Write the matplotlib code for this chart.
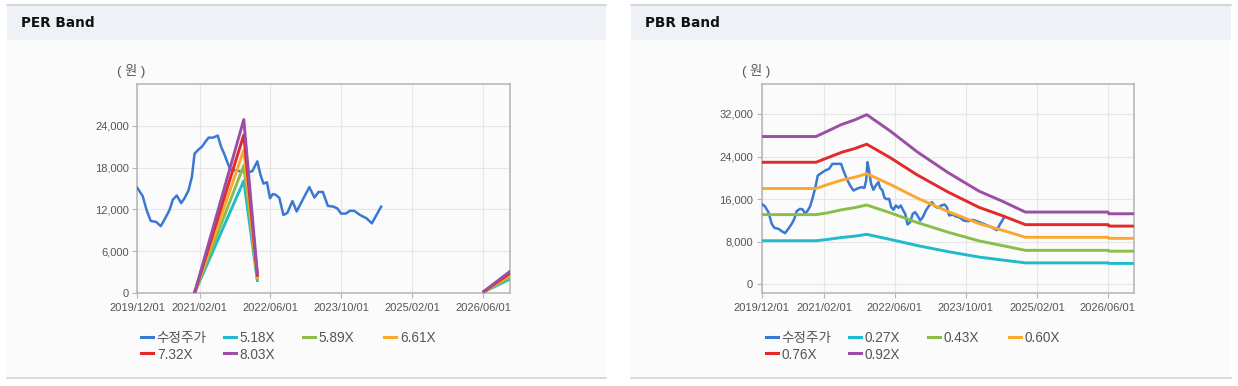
import matplotlib
matplotlib.use('Agg')
import matplotlib.pyplot as plt
from matplotlib.patches import Rectangle
from matplotlib.lines import Line2D
import numpy as np
import pandas as pd

plt.rcParams['font.family'] = ['Liberation Sans', 'Noto Sans CJK KR', 'DejaVu Sans']

# ---- data ----
per_price_dates = ['2019-12-01', '2020-01-07', '2020-02-03', '2020-03-02', '2020-04-08', '2020-05-10',
                   '2020-06-09', '2020-07-09', '2020-08-01', '2020-08-28', '2020-09-27', '2020-10-20',
                   '2020-11-17', '2020-12-10', '2020-12-28', '2021-01-25', '2021-02-17', '2021-03-12',
                   '2021-04-04', '2021-05-04', '2021-06-05', '2021-06-28', '2021-07-21', '2021-08-13',
                   '2021-08-31', '2021-10-31', '2021-12-30', '2022-01-29', '2022-03-04', '2022-03-25',
                   '2022-04-15', '2022-05-09', '2022-05-30', '2022-06-18', '2022-07-08', '2022-08-02',
                   '2022-08-30', '2022-09-26', '2022-10-31', '2022-11-29', '2023-01-02', '2023-02-24',
                   '2023-03-31', '2023-04-28', '2023-05-28', '2023-07-01', '2023-08-08', '2023-09-04',
                   '2023-09-30', '2023-11-01', '2023-11-30', '2023-12-28', '2024-02-07', '2024-03-24',
                   '2024-04-28', '2024-07-01']
per_price = [15100, 13900, 11900, 10350, 10200, 9600,
             10700, 11900, 13400, 14000, 12900, 13600,
             14750, 16700, 20000, 20600, 21000, 21700,
             22300, 22300, 22600, 21000, 19900, 18600,
             17700, 17500, 17300, 17500, 18900, 17000,
             15700, 15900, 13600, 14200, 14100, 13650,
             11200, 11500, 13200, 11700, 13100, 15200,
             13700, 14500, 14500, 12500, 12400, 12150,
             11400, 11400, 11800, 11800, 11200, 10700,
             10000, 12400]

per_band_dates = ['2020-12-28', '2021-12-01', '2022-03-04', '2024-01-01', '2026-06-07', '2026-11-29']
per_labels = ['5.18X', '5.89X', '6.61X', '7.32X', '8.03X']
per_518 = [0, 16100, 1800, np.nan, 160, 1970]
per_589 = [0, 18300, 2050, np.nan, 180, 2240]
per_661 = [0, 20500, 2300, np.nan, 200, 2510]
per_732 = [0, 22700, 2550, np.nan, 230, 2780]
per_803 = [0, 24900, 2800, np.nan, 250, 3050]

pbr_price_dates = ['2019-12-01', '2019-12-24', '2020-01-16', '2020-02-08', '2020-02-26', '2020-03-25',
                   '2020-04-16', '2020-05-09', '2020-06-01', '2020-06-24', '2020-07-12', '2020-07-28',
                   '2020-08-20', '2020-09-08', '2020-09-24', '2020-10-12', '2020-10-28', '2020-11-13',
                   '2020-12-01', '2020-12-20', '2021-01-12', '2021-02-08', '2021-03-08', '2021-03-30',
                   '2021-04-29', '2021-05-29', '2021-06-14', '2021-07-07', '2021-07-30', '2021-08-22',
                   '2021-09-14', '2021-10-13', '2021-11-05', '2021-11-17', '2021-11-26', '2021-12-07',
                   '2021-12-21', '2022-01-06', '2022-01-22', '2022-02-09', '2022-02-21', '2022-03-09',
                   '2022-03-23', '2022-04-08', '2022-04-24', '2022-05-08', '2022-05-24', '2022-06-09',
                   '2022-06-27', '2022-07-13', '2022-07-27', '2022-08-12', '2022-08-28', '2022-09-15',
                   '2022-10-03', '2022-10-19', '2022-11-04', '2022-11-23', '2022-12-11', '2023-01-01',
                   '2023-01-19', '2023-02-11', '2023-03-06', '2023-03-24', '2023-04-16', '2023-05-09',
                   '2023-05-25', '2023-06-10', '2023-07-03', '2023-07-26', '2023-08-18', '2023-09-16',
                   '2023-10-21', '2023-11-17', '2023-12-17', '2024-01-20', '2024-02-23', '2024-03-29',
                   '2024-05-02', '2024-05-28', '2024-06-24']
pbr_price = [15120, 14620, 13560, 11370, 10620, 10440,
             10000, 9620, 10440, 11370, 12310, 13750,
             14190, 14060, 13250, 13870, 14620, 16060,
             17940, 20440, 20870, 21370, 21690, 22620,
             22620, 22620, 21370, 19810, 18560, 17620,
             17940, 18250, 18120, 19500, 22940, 21370,
             18870, 17750, 18560, 19190, 18120, 17620,
             16250, 16000, 16060, 14500, 14000, 14810,
             14370, 14810, 14000, 13250, 11250, 11690,
             13250, 13560, 12940, 12000, 12620, 13870,
             14620, 15440, 14620, 14370, 14810, 15000,
             14500, 12940, 13120, 12750, 12620, 12000,
             11870, 12120, 11870, 11500, 11100, 10700,
             10200, 11500, 12700]

pbr_band_dates = ['2019-12-01', '2020-12-08', '2021-03-01', '2021-06-01', '2021-09-01', '2021-11-21',
                  '2022-05-01', '2022-11-01', '2023-06-01', '2024-01-01', '2024-06-01', '2024-11-14',
                  '2026-06-05', '2026-06-10', '2026-12-01']
pbr_labels = ['0.27X', '0.43X', '0.60X', '0.76X', '0.92X']
pbr_027 = [8200, 8200, 8460, 8810, 9060, 9400, 8450, 7310, 6160, 5140, 4610, 4050, 4050, 3950, 3950]
pbr_043 = [13100, 13100, 13450, 14010, 14420, 14900, 13450, 11630, 9810, 8170, 7340, 6400, 6400, 6250, 6250]
pbr_060 = [18000, 18000, 18780, 19560, 20130, 20770, 18770, 16230, 13690, 11410, 10240, 8850, 8850, 8650, 8650]
pbr_076 = [22920, 22920, 23800, 24780, 25510, 26310, 23780, 20570, 17350, 14460, 12980, 11220, 11220, 10950, 10950]
pbr_092 = [27750, 27750, 28810, 30000, 30880, 31850, 28790, 24900, 21000, 17500, 15710, 13580, 13580, 13260, 13260]

tick_dates = ['2019-12-01', '2021-02-01', '2022-06-01', '2023-10-01', '2025-02-01', '2026-06-01']
tick_labels = ['2019/12/01', '2021/02/01', '2022/06/01', '2023/10/01', '2025/02/01', '2026/06/01']

price_label = '수정주가'
price_color = '#3a78d4'
band_colors = ['#1fbbcc', '#8bbd4a', '#fba82e', '#e3292a', '#9b4ea3']

W, H = 1238, 386
fig = plt.figure(figsize=(W / 100, H / 100), dpi=100)


def fx(px):
    return px / W


def fy(py):
    return 1 - py / H


def panel(x0, x1, title):
    fig.add_artist(Rectangle((fx(x0), fy(378)), fx(x1 - x0), 374 / H, transform=fig.transFigure,
                             fc='#fbfbfb', ec='none', zorder=-5))
    fig.add_artist(Rectangle((fx(x0), fy(40)), fx(x1 - x0), 36 / H, transform=fig.transFigure,
                             fc='#eef1f6', ec='none', zorder=-4))
    fig.add_artist(Line2D([fx(x0), fx(x1)], [fy(4.5), fy(4.5)], color='#d3d3d3', lw=1.2, zorder=-3))
    fig.add_artist(Line2D([fx(x0), fx(x1)], [fy(378), fy(378)], color='#d3d3d3', lw=1.2, zorder=-3))
    fig.text(fx(x0 + 14), fy(23), title, fontsize=9.8, fontweight='bold', family='DejaVu Sans',
             color='#111111', va='center', ha='left')


def chart(left, price_dates, price, band_dates, bands, labels, ylim, yticks):
    ax = fig.add_axes([fx(left), fy(293), fx(372.5), 209 / H])
    ax.set_facecolor('none')
    ax.plot(pd.to_datetime(price_dates), price, color=price_color, lw=1.8, zorder=3)
    bd = pd.to_datetime(band_dates)
    for vals, c in zip(bands, band_colors):
        ax.plot(bd, vals, color=c, lw=2.1, zorder=4)
    ax.set_xlim(pd.Timestamp('2019-12-01'), pd.Timestamp('2026-12-01'))
    ax.set_ylim(*ylim)
    ax.set_xticks(pd.to_datetime(tick_dates))
    ax.set_xticklabels(tick_labels)
    ax.set_yticks(yticks)
    ax.set_yticklabels(['{:,}'.format(v) for v in yticks])
    ax.grid(color='#e6e6e6', lw=0.8)
    ax.set_axisbelow(True)
    for s in ax.spines.values():
        s.set_color('#b4b4b4')
        s.set_linewidth(1.1)
    ax.tick_params(axis='both', length=3.6, width=0.8, color='#b4b4b4', labelsize=8, labelcolor='#555555')
    ax.tick_params(axis='x', pad=3.5)
    ax.tick_params(axis='y', pad=2.5)

    fig.text(fx(left - 6), fy(71), '( 원 )', fontsize=9.5, color='#555555', ha='center', va='center')

    # legend, laid out like the reference (4 + 2)
    names = [price_label] + labels
    colors = [price_color] + band_colors
    cols = [4, 87, 166, 247]
    rows = [336.7, 353.3]
    for i, (n, c) in enumerate(zip(names, colors)):
        xs = left + cols[i % 4]
        ys = rows[i // 4]
        fig.add_artist(Line2D([fx(xs), fx(xs + 12)], [fy(ys), fy(ys)], color=c, lw=2.2))
        fig.text(fx(xs + 15.5), fy(ys), n, fontsize=9.8, color='#555555', ha='left', va='center_baseline')
    return ax


panel(7, 606, 'PER Band')
panel(631, 1231, 'PBR Band')

chart(137.3, per_price_dates, per_price, per_band_dates,
      [per_518, per_589, per_661, per_732, per_803], per_labels,
      (0, 30000), [0, 6000, 12000, 18000, 24000])
chart(761.7, pbr_price_dates, pbr_price, pbr_band_dates,
      [pbr_027, pbr_043, pbr_060, pbr_076, pbr_092], pbr_labels,
      (-1600, 37600), [0, 8000, 16000, 24000, 32000])

fig.savefig('out.png', dpi=100, facecolor='white')
